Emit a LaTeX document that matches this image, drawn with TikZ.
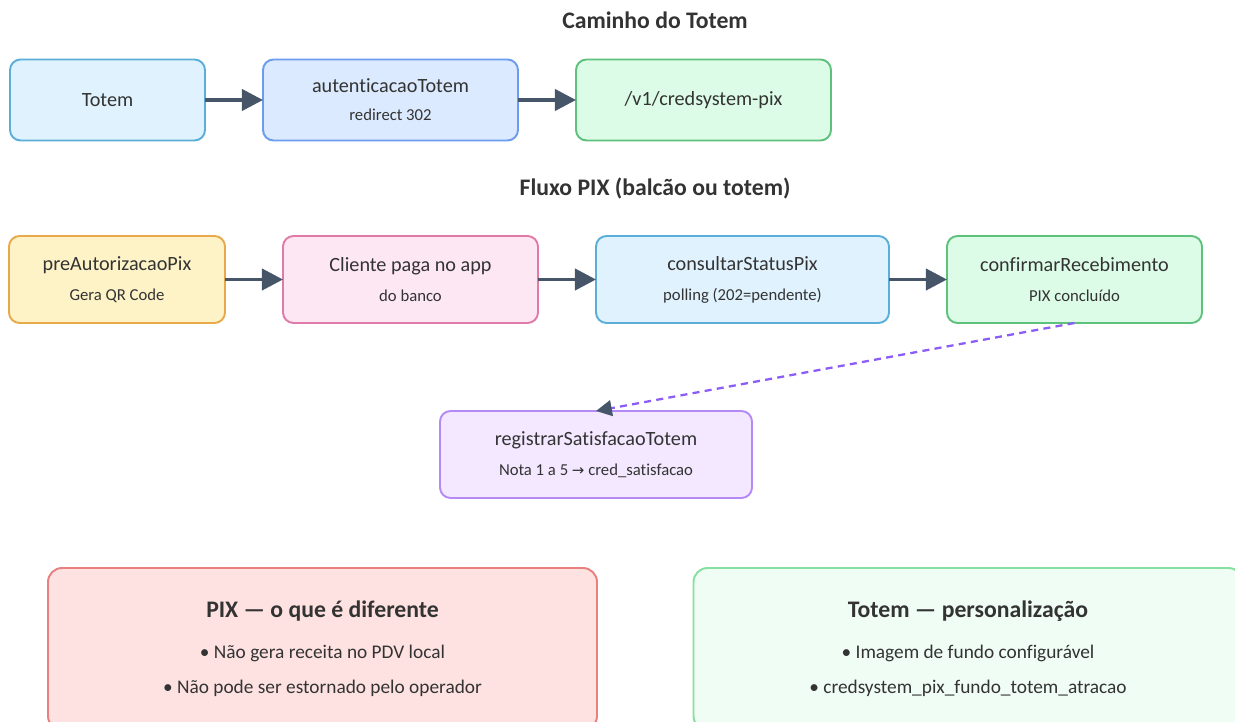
\documentclass[tikz,border=0pt]{standalone}
\usepackage{fontspec}
\setmainfont{Carlito}[Ligatures=CommonOff]
\newfontfamily\dejavu{DejaVu Sans}
\usepackage{tikz}
\usetikzlibrary{positioning, arrows.meta}
\definecolor{ttInk}{HTML}{333333}
\definecolor{ttArrow}{HTML}{475569}
\definecolor{ttPurple}{HTML}{8B5CF6}
\definecolor{ttSkyFill}{HTML}{E0F2FE}
\definecolor{ttSkyLine}{HTML}{5AAED8}
\definecolor{ttBlueFill}{HTML}{DBEAFE}
\definecolor{ttBlueLine}{HTML}{6B9CF0}
\definecolor{ttGreenFill}{HTML}{DCFCE7}
\definecolor{ttGreenLine}{HTML}{5EC27C}
\definecolor{ttYellowFill}{HTML}{FEF3C7}
\definecolor{ttYellowLine}{HTML}{E8A94A}
\definecolor{ttPinkFill}{HTML}{FCE7F3}
\definecolor{ttPinkLine}{HTML}{E07AA8}
\definecolor{ttLilacFill}{HTML}{F3E8FF}
\definecolor{ttLilacLine}{HTML}{B58AF5}
\definecolor{ttRedFill}{HTML}{FEE2E2}
\definecolor{ttRedLine}{HTML}{E88080}
\definecolor{ttMintFill}{HTML}{F0FDF4}
\definecolor{ttMintLine}{HTML}{86E0A0}

\begin{document}
\begin{tikzpicture}[
  stepbox/.style={draw, line width=1.1pt, outer sep=0pt, rounded corners=6pt, minimum width=5.1cm, minimum height=1.62cm, align=center, text=ttInk, font=\fontsize{11.5}{14}\selectfont},
  flow/.style={draw=ttArrow, line width=2.2pt, -{Triangle[length=12pt,width=12pt]}},
  dashflow/.style={draw=ttPurple, line width=1.3pt, dash pattern=on 4pt off 3pt, -{Triangle[length=9pt,width=9pt,color=ttArrow]}},
  title/.style={font=\bfseries\fontsize{13.5}{16}\selectfont, text=ttInk},
  note/.style={draw, line width=1.1pt, rounded corners=8pt, minimum width=10.98cm, minimum height=3.24cm, align=center, text=ttInk, font=\fontsize{11}{20}\selectfont},
  node distance=1.16cm
]
  \useasboundingbox (0,0) rectangle (24.7,-14.44);

  % Caminho do Totem
  \node[title] (t1) at (13.1,-0.4) {Caminho do Totem};
  \node[stepbox, fill=ttSkyFill, draw=ttSkyLine, minimum width=3.9cm, anchor=west] (totem) at (0.2,-2.0) {Totem};
  \node[stepbox, fill=ttBlueFill, draw=ttBlueLine, right=of totem] (auth) {autenticacaoTotem\\[2pt]{\fontsize{9.5}{11}\selectfont redirect 302}};
  \node[stepbox, fill=ttGreenFill, draw=ttGreenLine, right=of auth] (pix) {/v1/credsystem-pix};
  \draw[flow] (totem) -- (auth);
  \draw[flow] (auth) -- (pix);

  % Fluxo PIX
  \node[title] (t2) at (13.1,-3.76) {Fluxo PIX (balcão ou totem)};
  \node[stepbox, fill=ttYellowFill, draw=ttYellowLine, minimum width=4.32cm, minimum height=1.74cm, anchor=west] (pre) at (0.18,-5.59) {preAutorizacaoPix\\[3pt]{\fontsize{9.5}{11}\selectfont Gera QR Code}};
  \node[stepbox, fill=ttPinkFill, draw=ttPinkLine, minimum height=1.74cm, right=of pre] (cli) {Cliente paga no app\\[3pt]{\fontsize{9.5}{11}\selectfont do banco}};
  \node[stepbox, fill=ttSkyFill, draw=ttSkyLine, minimum width=5.86cm, minimum height=1.74cm, right=of cli] (cons) {consultarStatusPix\\[3pt]{\fontsize{9.5}{11}\selectfont polling (202=pendente)}};
  \node[stepbox, fill=ttGreenFill, draw=ttGreenLine, minimum height=1.74cm, right=of cons] (conf) {confirmarRecebimento\\[3pt]{\fontsize{9.5}{11}\selectfont PIX concluído}};
  \node[stepbox, fill=ttLilacFill, draw=ttLilacLine, minimum width=6.24cm, minimum height=1.74cm] (reg) at (11.92,-9.09) {registrarSatisfacaoTotem\\[3pt]{\fontsize{9.5}{11}\selectfont Nota 1 a 5 {\dejavu\fontsize{8.5}{11}\selectfont →} cred\_satisfacao}};
  \draw[flow] (pre) -- (cli);
  \draw[flow] (cli) -- (cons);
  \draw[flow] (cons) -- (conf);
  \draw[dashflow] (conf.south) -- (reg.north);

  % notas
  \node[note, fill=ttRedFill, draw=ttRedLine] (difpix) at (6.45,-12.98) {{\bfseries\fontsize{13.5}{16}\selectfont PIX — o que é diferente}\\[3pt]• Não gera receita no PDV local\\• Não pode ser estornado pelo operador};
  \node[note, fill=ttMintFill, draw=ttMintLine] (perstotem) at (19.36,-12.98) {{\bfseries\fontsize{13.5}{16}\selectfont Totem — personalização}\\[3pt]• Imagem de fundo configurável\\• credsystem\_pix\_fundo\_totem\_atracao};
\end{tikzpicture}
\end{document}
